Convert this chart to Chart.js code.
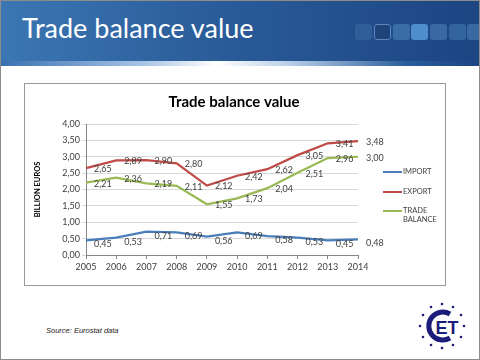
<!DOCTYPE html>
<html>
<head>
<meta charset="utf-8">
<script src="https://cdn.jsdelivr.net/npm/chart.js@4.4.0/dist/chart.umd.min.js"></script>
<style>
  body { margin: 0; width: 480px; height: 360px; overflow: hidden; background: #fff; font-family: Lato, sans-serif; }
  #slide { position: relative; width: 478px; height: 358px; border: 1px solid #8c8c8c; overflow: hidden; }
  #header { position: absolute; left: 0; top: 0; width: 478px; height: 60px;
    background: linear-gradient(to right, #3b77b3 0%, #2a5c99 45%, #1c4582 100%); }
  #header h1 { position: absolute; left: 21px; top: 13px; margin: 0; font: 400 27px/27px Lato, sans-serif; color: #fff; }
  .sq { position: absolute; top: 23px; width: 17px; height: 16px; border-radius: 3px; box-sizing: border-box; }
  #strip { position: absolute; left: 0; top: 60px; width: 478px; height: 5px;
    background: linear-gradient(to right, #3a70b0 0%, #a8c5e6 30%, #ffffff 45%, #b9d0ea 60%, #2a5c99 85%, #1c4582 100%); }
  #box { position: absolute; left: 23px; top: 82px; width: 420px; height: 201px; border: 1px solid #9a9a9a; }
  #chart { position: absolute; left: 0; top: 0; }
  #source { position: absolute; left: 45px; top: 325px; font: italic 7.5px "Liberation Sans", Arial, sans-serif; color: #222; }
  #logo { position: absolute; left: 417px; top: 301px; }
</style>
</head>
<body>
<div id="slide">
  <div id="header">
    <h1>Trade balance value</h1>
    <div class="sq" style="left:354px;background:#2f5e98"></div>
    <div class="sq" style="left:373px;background:#1f4479;border:1px solid #5a86bd"></div>
    <div class="sq" style="left:392px;background:#3a6ca6"></div>
    <div class="sq" style="left:410px;background:#4f8dcc"></div>
    <div class="sq" style="left:429px;background:#3a69a2"></div>
    <div class="sq" style="left:448px;background:#34649e"></div>
    <div class="sq" style="left:466px;background:#3a69a2"></div>
  </div>
  <div id="strip"></div>
  <div id="box"><canvas id="chart" width="420" height="201"></canvas></div>
  <div id="source">Source: Eurostat data</div>
  <svg id="logo" width="48" height="48" viewBox="0 0 48 48">
    <g fill="#1c1c7a">
      <circle cx="24" cy="2" r="1.3"/><circle cx="35" cy="5" r="1.3"/><circle cx="43" cy="13" r="1.3"/>
      <circle cx="46" cy="24" r="1.3"/><circle cx="43" cy="35" r="1.3"/><circle cx="35" cy="43" r="1.3"/>
      <circle cx="24" cy="46" r="1.3"/><circle cx="13" cy="43" r="1.3"/><circle cx="5" cy="35" r="1.3"/>
      <circle cx="2" cy="24" r="1.3"/><circle cx="5" cy="13" r="1.3"/><circle cx="13" cy="5" r="1.3"/>
    </g>
    <path d="M 32 12 A 14 14 0 1 0 32 36" fill="none" stroke="#1c1c7a" stroke-width="5"/>
    <text x="29" y="32" text-anchor="middle" font-family="Liberation Sans, Arial" font-weight="bold" font-size="18" fill="#1c1c7a">ET</text>
  </svg>
</div>

<script>
// Dati del grafico
const years = ['2005', '2006', '2007', '2008', '2009', '2010', '2011', '2012', '2013', '2014'];
const seriesNames = ['IMPORT', 'EXPORT', 'TRADE BALANCE'];
const importValues = [0.45, 0.53, 0.71, 0.69, 0.56, 0.69, 0.58, 0.53, 0.45, 0.48];
const exportValues = [2.65, 2.89, 2.90, 2.80, 2.12, 2.42, 2.62, 3.05, 3.41, 3.48];
const balanceValues = [2.21, 2.36, 2.19, 2.11, 1.55, 1.73, 2.04, 2.51, 2.96, 3.00];
const yMin = 0, yMax = 4, yStep = 0.5;
const chartTitle = 'Trade balance value';

const colors = ['#4a7ebb', '#be4b48', '#98b954'];
const fmt = v => Number(v).toFixed(2).replace('.', ',');

// titolo centrato su tutta la tela (non solo sull'area del grafico)
const centerTitle = {
  id: 'centerTitle',
  afterDraw(chart) {
    const ctx = chart.ctx;
    ctx.save();
    ctx.font = 'bold 15px Lato';
    ctx.fillStyle = '#000';
    ctx.textAlign = 'center';
    ctx.textBaseline = 'middle';
    ctx.fillText(chartTitle, chart.width / 2 - 1, 18);
    ctx.restore();
  }
};

// etichette dei valori a destra di ogni punto
const valueLabels = {
  id: 'valueLabels',
  afterDatasetsDraw(chart) {
    const ctx = chart.ctx;
    ctx.save();
    ctx.font = '9px Lato';
    ctx.fillStyle = '#404040';
    ctx.textAlign = 'left';
    ctx.textBaseline = 'middle';
    chart.data.datasets.forEach((ds, i) => {
      const dy = i === 0 ? 4 : 1;
      chart.getDatasetMeta(i).data.forEach((pt, j) => {
        ctx.fillText(fmt(ds.data[j]), pt.x + 8, pt.y + dy);
      });
    });
    ctx.restore();
  }
};

// legenda a destra, con TRADE BALANCE su due righe
const sideLegend = {
  id: 'sideLegend',
  afterDraw(chart) {
    const ctx = chart.ctx;
    const x = chart.chartArea.right + 25;
    const rows = [88, 108, 127];
    ctx.save();
    ctx.font = '7.5px Lato';
    ctx.fillStyle = '#404040';
    ctx.textBaseline = 'middle';
    chart.data.datasets.forEach((ds, i) => {
      ctx.strokeStyle = ds.borderColor;
      ctx.lineWidth = 2;
      ctx.beginPath();
      ctx.moveTo(x, rows[i]);
      ctx.lineTo(x + 19, rows[i]);
      ctx.stroke();
      const words = i === 2 ? ['TRADE', 'BALANCE'] : [ds.label];
      words.forEach((w, k) => ctx.fillText(w, x + 20, rows[i] + k * 9));
    });
    ctx.restore();
  }
};

new Chart(document.getElementById('chart'), {
  type: 'line',
  data: {
    labels: years,
    datasets: [
      { label: seriesNames[0], data: importValues, borderColor: colors[0] },
      { label: seriesNames[1], data: exportValues, borderColor: colors[1] },
      { label: seriesNames[2], data: balanceValues, borderColor: colors[2] }
    ].map(d => ({ ...d, borderWidth: 2.25, pointRadius: 0, tension: 0, fill: false }))
  },
  options: {
    responsive: false,
    animation: false,
    layout: { padding: { left: 0, right: 87, top: 40, bottom: 0 } },
    plugins: {
      legend: { display: false },
      tooltip: { enabled: false },
      title: { display: false }
    },
    scales: {
      x: {
        offset: false,
        grid: { drawOnChartArea: false, tickLength: 4, color: '#868686' },
        border: { color: '#868686' },
        ticks: { color: '#404040', font: { family: 'Lato', size: 9 }, padding: 3, maxRotation: 0, autoSkip: false },
        afterFit(s) { s.height = 30; }
      },
      y: {
        min: yMin,
        max: yMax,
        ticks: { stepSize: yStep, color: '#404040', font: { family: 'Lato', size: 9 }, padding: 2, callback: v => fmt(v) },
        grid: { color: '#d9d9d9', tickLength: 4 },
        border: { color: '#868686' },
        title: {
          display: true,
          text: 'BILLION EUROS',
          color: '#000',
          font: { family: 'Lato', size: 7.5, weight: 'bold' },
          padding: { top: 8, bottom: 0 }
        },
        afterFit(s) { s.width = 61; }
      }
    }
  },
  plugins: [valueLabels, sideLegend, centerTitle]
});
</script>
</body>
</html>
